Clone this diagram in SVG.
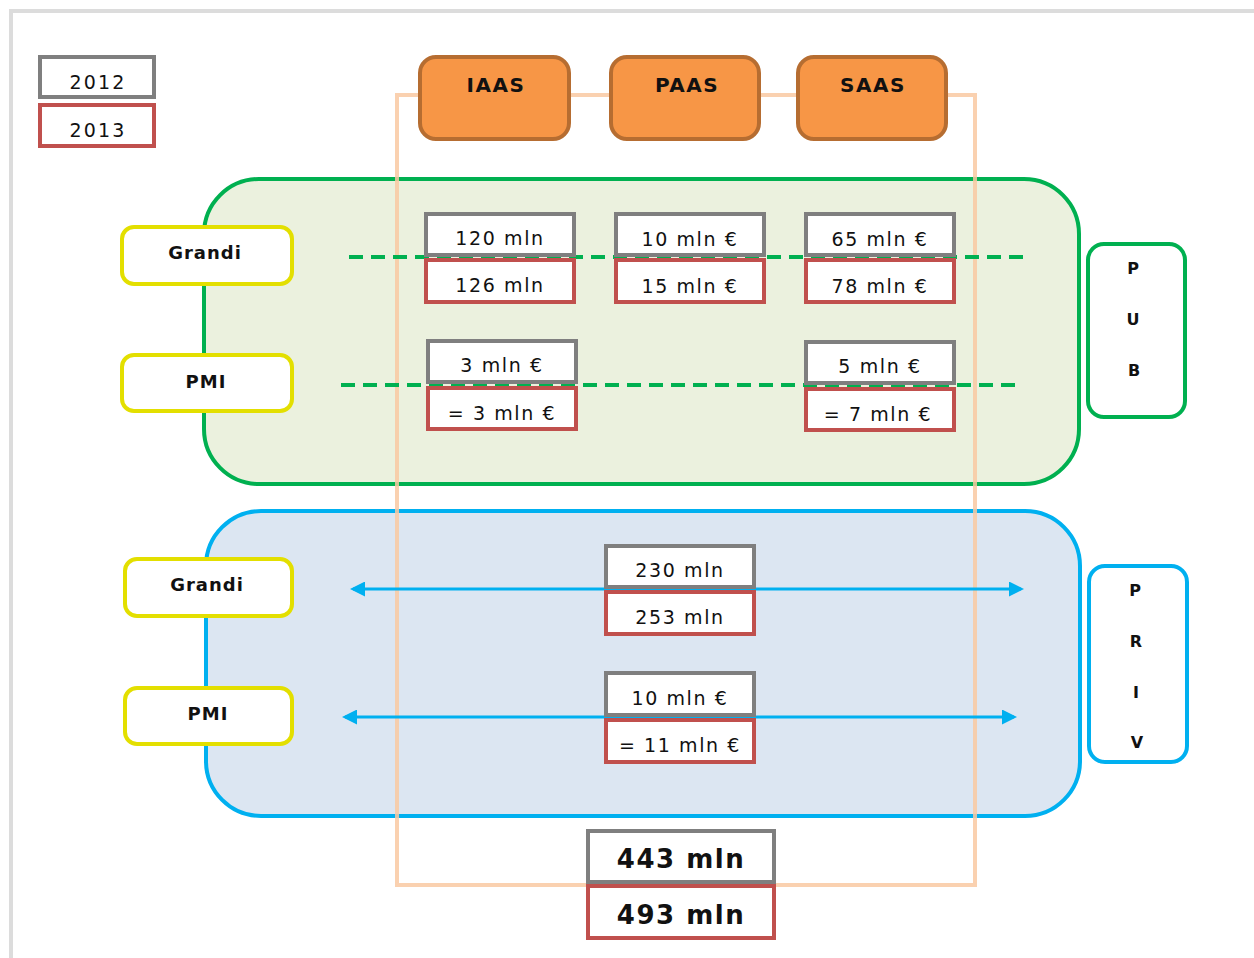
<svg xmlns="http://www.w3.org/2000/svg" width="1254" height="958" viewBox="0 0 1254 958">
  <defs>
    <style>
      .val { font-family: "DejaVu Sans", Verdana, sans-serif; font-size: 19px; letter-spacing: 1.6px; fill: #111; text-anchor: middle; }
      .big { font-family: "DejaVu Sans", Verdana, sans-serif; font-size: 26px; font-weight: bold; letter-spacing: 1.5px; fill: #111; text-anchor: middle; }
      .lbl { font-family: "DejaVu Sans", Verdana, sans-serif; font-size: 18px; font-weight: bold; letter-spacing: 1px; fill: #111; text-anchor: middle; }
      .hdr { font-family: "DejaVu Sans", Verdana, sans-serif; font-size: 20px; font-weight: bold; letter-spacing: 1.5px; fill: #111; text-anchor: middle; }
      .vert { font-family: "DejaVu Sans", Verdana, sans-serif; font-size: 16px; font-weight: bold; fill: #111; text-anchor: middle; }
      .y12 { fill: #fff; stroke: #7f7f7f; stroke-width: 4; }
      .y13 { fill: #fff; stroke: #c0504d; stroke-width: 4; }
      .seg { fill: #fff; stroke: #e3df00; stroke-width: 4; }
      .svc { fill: #f79646; stroke: #b66d31; stroke-width: 4; }
      .dash { stroke: #00b050; stroke-width: 4; stroke-dasharray: 14 8; fill: none; }
      .arr { stroke: #00b0f0; stroke-width: 3; fill: none; marker-start: url(#head); marker-end: url(#head); }
    </style>
    <marker id="head" viewBox="0 0 10 10" refX="8" refY="5" markerWidth="5.5" markerHeight="5" orient="auto-start-reverse" markerUnits="strokeWidth">
      <path d="M0,0 L10,5 L0,10 z" fill="#00b0f0"/>
    </marker>
  </defs>

  <rect width="1254" height="958" fill="#fff"/>
  <!-- page frame (top and left edges) -->
  <path d="M11,958 V11 H1254" fill="none" stroke="#dcdcdc" stroke-width="4"/>

  <!-- legend -->
  <g id="legend">
    <rect class="y12" x="40" y="57" width="114" height="40"/>
    <text class="val" x="98" y="89" style="letter-spacing:2.2px">2012</text>
    <rect class="y13" x="40" y="105" width="114" height="41"/>
    <text class="val" x="98" y="137" style="letter-spacing:2.2px">2013</text>
  </g>

  <!-- market regions -->
  <g id="public-region">
    <rect x="204" y="179" width="875" height="305" rx="55" fill="#ebf1de" stroke="#00b050" stroke-width="4"/>
  </g>
  <g id="private-region">
    <rect x="206" y="511" width="874" height="305" rx="55" fill="#dce6f2" stroke="#00b0f0" stroke-width="4"/>
  </g>

  <!-- cloud services frame -->
  <rect id="services-frame" x="397" y="95" width="578" height="790" fill="none" stroke="#f9c9a2" stroke-opacity="0.85" stroke-width="4"/>

  <!-- connectors -->
  <g id="connectors">
    <line class="dash" x1="349" y1="257" x2="1025" y2="257"/>
    <line class="dash" x1="341" y1="385" x2="1018" y2="385"/>
    <line class="arr" x1="353" y1="589" x2="1021" y2="589"/>
    <line class="arr" x1="345" y1="717" x2="1014" y2="717"/>
  </g>

  <!-- service headers -->
  <g id="iaas">
    <rect class="svc" x="420" y="57" width="149" height="82" rx="16"/>
    <text class="hdr" x="496" y="92">IAAS</text>
  </g>
  <g id="paas">
    <rect class="svc" x="611" y="57" width="148" height="82" rx="16"/>
    <text class="hdr" x="687" y="92">PAAS</text>
  </g>
  <g id="saas">
    <rect class="svc" x="798" y="57" width="148" height="82" rx="16"/>
    <text class="hdr" x="873" y="92">SAAS</text>
  </g>

  <!-- segments -->
  <g id="pub-grandi">
    <rect class="seg" x="122" y="227" width="170" height="57" rx="12"/>
    <text class="lbl" x="205" y="259">Grandi</text>
  </g>
  <g id="pub-pmi">
    <rect class="seg" x="122" y="355" width="170" height="56" rx="12"/>
    <text class="lbl" x="206" y="388">PMI</text>
  </g>
  <g id="priv-grandi">
    <rect class="seg" x="125" y="559" width="167" height="57" rx="12"/>
    <text class="lbl" x="207" y="591">Grandi</text>
  </g>
  <g id="priv-pmi">
    <rect class="seg" x="125" y="688" width="167" height="56" rx="12"/>
    <text class="lbl" x="208" y="720">PMI</text>
  </g>

  <!-- sector labels -->
  <g id="pub">
    <rect x="1088" y="244" width="97" height="173" rx="16" fill="#fff" stroke="#00b050" stroke-width="4"/>
    <text class="vert" x="1133" y="274">P</text>
    <text class="vert" x="1133" y="325">U</text>
    <text class="vert" x="1134" y="376">B</text>
  </g>
  <g id="priv">
    <rect x="1089" y="566" width="98" height="196" rx="16" fill="#fff" stroke="#00b0f0" stroke-width="4"/>
    <text class="vert" x="1135" y="596">P</text>
    <text class="vert" x="1136" y="647">R</text>
    <text class="vert" x="1136" y="698">I</text>
    <text class="vert" x="1137" y="748">V</text>
  </g>

  <!-- public values -->
  <g id="pub-grandi-iaas">
    <rect class="y12" x="426" y="214" width="148" height="41"/>
    <text class="val" x="500" y="245">120 mln</text>
    <rect class="y13" x="426" y="260" width="148" height="42"/>
    <text class="val" x="500" y="292">126 mln</text>
  </g>
  <g id="pub-grandi-paas">
    <rect class="y12" x="616" y="214" width="148" height="41"/>
    <text class="val" x="690" y="246">10 mln €</text>
    <rect class="y13" x="616" y="260" width="148" height="42"/>
    <text class="val" x="690" y="293">15 mln €</text>
  </g>
  <g id="pub-grandi-saas">
    <rect class="y12" x="806" y="214" width="148" height="41"/>
    <text class="val" x="880" y="246">65 mln €</text>
    <rect class="y13" x="806" y="260" width="148" height="42"/>
    <text class="val" x="880" y="293">78 mln €</text>
  </g>
  <g id="pub-pmi-iaas">
    <rect class="y12" x="428" y="341" width="148" height="41"/>
    <text class="val" x="502" y="372">3 mln €</text>
    <rect class="y13" x="428" y="388" width="148" height="41"/>
    <text class="val" x="502" y="420">= 3 mln €</text>
  </g>
  <g id="pub-pmi-saas">
    <rect class="y12" x="806" y="342" width="148" height="41"/>
    <text class="val" x="880" y="373">5 mln €</text>
    <rect class="y13" x="806" y="389" width="148" height="41"/>
    <text class="val" x="878" y="421">= 7 mln €</text>
  </g>

  <!-- private values -->
  <g id="priv-grandi-val">
    <rect class="y12" x="606" y="546" width="148" height="41"/>
    <text class="val" x="680" y="577">230 mln</text>
    <rect class="y13" x="606" y="592" width="148" height="42"/>
    <text class="val" x="680" y="624">253 mln</text>
  </g>
  <g id="priv-pmi-val">
    <rect class="y12" x="606" y="673" width="148" height="42"/>
    <text class="val" x="680" y="705">10 mln €</text>
    <rect class="y13" x="606" y="720" width="148" height="42"/>
    <text class="val" x="680" y="752">= 11 mln €</text>
  </g>

  <!-- totals -->
  <g id="total">
    <rect class="y12" x="588" y="831" width="186" height="51"/>
    <text class="big" x="681" y="868">443 mln</text>
    <rect class="y13" x="588" y="886" width="186" height="52"/>
    <text class="big" x="681" y="924">493 mln</text>
  </g>
</svg>
